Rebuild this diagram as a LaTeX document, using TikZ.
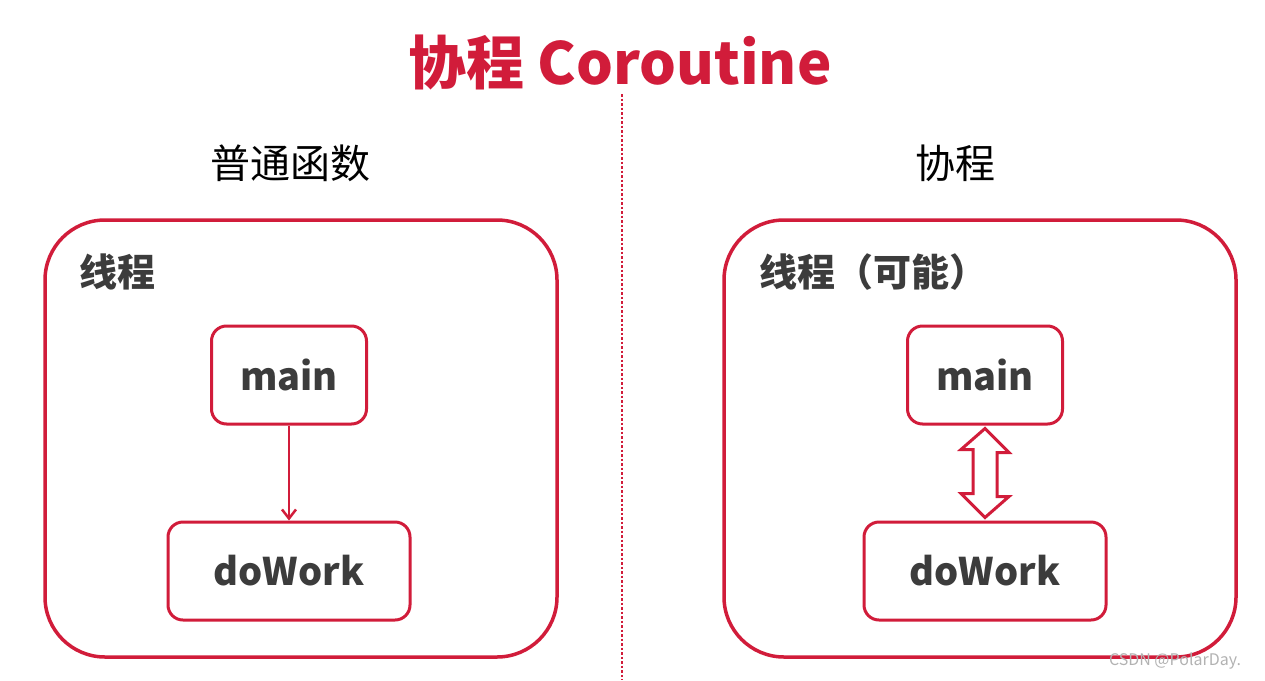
\documentclass[tikz,border=0pt]{standalone}
\usepackage{fontspec}
\setmainfont{Noto Sans CJK SC}
\usetikzlibrary{positioning, calc, arrows.meta}
\definecolor{corored}{RGB}{209,28,58}
\definecolor{boxtext}{RGB}{60,60,60}

\tikzset{
  panel/.style={draw=corored, line width=3.5pt, rounded corners=60pt, fill=white},
  fnbox/.style={draw=corored, line width=3pt, rounded corners=15pt, fill=white,
    minimum height=98pt, font=\fontsize{38}{42}\selectfont\bfseries, text=boxtext},
  heading/.style={font=\fontsize{40}{44}\selectfont, text=black},
  thread/.style={anchor=west, font=\fontsize{38}{42}\selectfont\bfseries, text=boxtext}
}

\begin{document}
\begin{tikzpicture}[x=1pt, y=-1pt]
\useasboundingbox (0,0) rectangle (1265,680);

% title and divider
\node[font=\fontsize{58}{62}\selectfont\bfseries, text=corored] (title) at (620,62) {协程 Coroutine};
\coordinate (divtop) at (622,94);
\coordinate (divbot) at (622,680);
\draw[corored, line width=2.5pt, dotted] (divtop) -- (divbot);

% left: ordinary function
\node[heading] (lefthead) at (290,163) {普通函数};
\draw[panel] (45,220) rectangle (557,657);
\node[thread] (leftthread) at (76,272) {线程};
\node[fnbox, minimum width=155pt] (lmain) at (289,375) {main};
\node[fnbox, minimum width=242pt] (lwork) at (289,571) {doWork};
\draw[corored, line width=2.5pt, -{Straight Barb[length=9pt, width=14pt]}] (lmain) -- (lwork);

% right: coroutine
\node[heading] (righthead) at (955,163) {协程};
\draw[panel] (724,220) rectangle (1236,657);
\node[thread] (rightthread) at (756,272) {线程（可能）};
\node[fnbox, minimum width=155pt] (rmain) at (985,375) {main};
\node[fnbox, minimum width=242pt] (rwork) at (985,571) {doWork};
% hollow double arrow
\draw[corored, line width=3pt, fill=white, line join=miter]
  ($(rmain.south)+(0,3)$) -- ++(24,24) -- ++(-12,0) -- ++(0,44) -- ++(12,0)
  -- ($(rwork.north)+(0,-3)$) -- ++(-24,-24) -- ++(12,0) -- ++(0,-44) -- ++(-12,0) -- cycle;

\node[font=\fontsize{16}{18}\selectfont, text=black!30] (mark) at (1175,661) {CSDN @PolarDay.};
\end{tikzpicture}
\end{document}
